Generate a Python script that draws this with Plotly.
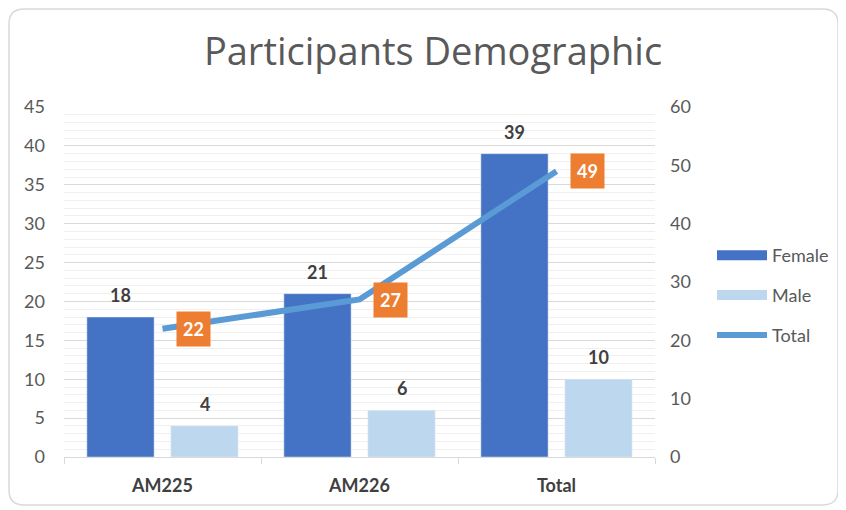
import plotly.graph_objects as go

categories = ["AM225", "AM226", "Total"]
female = [18, 21, 39]
male = [4, 6, 10]
total = [22, 27, 49]

FONT = "Lato, Open Sans, sans-serif"
TFONT = "Open Sans, Lato, sans-serif"
GRAY = "#595959"
DARK = "#404040"
C_F, C_M, C_T, C_L = "#4472C4", "#BDD7EE", "#5B9BD5", "#ED7D31"

fig = go.Figure()
fig.add_trace(go.Bar(
    x=categories, y=female, name="Female", marker_color=C_F,
    showlegend=False,
))
fig.add_trace(go.Bar(
    x=categories, y=male, name="Male", marker_color=C_M,
    showlegend=False,
))
fig.add_trace(go.Scatter(
    x=categories, y=total, name="Total", yaxis="y2", mode="lines",
    line=dict(color=C_T, width=6), showlegend=False,
))
# legend entries
fig.add_trace(go.Scatter(x=[None], y=[None], name="Female", mode="lines",
                         line=dict(color=C_F, width=11), legendgroup="f"))
fig.add_trace(go.Scatter(x=[None], y=[None], name="Male", mode="lines",
                         line=dict(color=C_M, width=11), legendgroup="m"))
fig.add_trace(go.Scatter(x=[None], y=[None], name="Total", mode="lines",
                         line=dict(color=C_T, width=6), legendgroup="t"))

# bar value labels (grouped bar offsets)
for series, shift in ((female, -42), (male, 42)):
    for c, v in zip(categories, series):
        fig.add_annotation(
            x=c, y=v, xref="x", yref="y", text=f"<b>{v}</b>", showarrow=False,
            xshift=shift, yshift=22, yanchor="middle",
            font=dict(family=FONT, size=18, color=DARK),
        )

for c, v in zip(categories, total):
    fig.add_annotation(
        x=c, y=v, xref="x", yref="y2", text=f"<b>{v}</b>", showarrow=False,
        xshift=31, bgcolor=C_L, borderpad=6,
        font=dict(family=FONT, size=18, color="white"),
    )

# mapping from screen pixels to paper coords
W, H = 591.0, 350.0
def px(x):
    return (x - 64) / W
def py(y):
    return (457 - y) / H
x0, x1, y0, y1 = px(9), px(838), py(505), py(9)
rx, ry = 15 / W, 15 / H
path = (f"M {x0+rx},{y1} L {x1-rx},{y1} Q {x1},{y1} {x1},{y1-ry} "
        f"L {x1},{y0+ry} Q {x1},{y0} {x1-rx},{y0} L {x0+rx},{y0} "
        f"Q {x0},{y0} {x0},{y0+ry} L {x0},{y1-ry} Q {x0},{y1} {x0+rx},{y1} Z")
fig.add_shape(type="path", path=path, xref="paper", yref="paper",
              line=dict(color="#d9d9d9", width=1.5), layer="below")

FW, FH = 838, 502
fig.update_layout(
    width=FW, height=FH,
    margin=dict(l=56, r=191, t=99, b=53),
    paper_bgcolor="white", plot_bgcolor="white",
    title=dict(text="Participants Demographic", x=(433 - 8) / FW, xanchor="center",
               y=1 - (52 - 8) / FH, yanchor="middle",
               font=dict(family=TFONT, size=38, color=GRAY)),
    barmode="group", bargap=0.147, bargroupgap=0.2,
    font=dict(family=FONT, size=18, color=GRAY),
    xaxis=dict(
        showline=True, linecolor="#d9d9d9", linewidth=1,
        tickson="boundaries", ticks="outside", ticklen=6, tickcolor="#d9d9d9",
        showgrid=False, ticklabelstandoff=12,
        tickfont=dict(family=FONT, size=18, color=DARK, weight="bold"),
    ),
    yaxis=dict(
        range=[0, 45], dtick=5, showgrid=True, gridcolor="#d9d9d9",
        zeroline=False, showline=False,
        minor=dict(dtick=1, showgrid=True, gridcolor="#f0f0f0"),
        tickfont=dict(family=FONT, size=18, color=GRAY), ticks="",
        ticklabelstandoff=18,
    ),
    yaxis2=dict(
        range=[0, 60], dtick=10, overlaying="y", side="right",
        showgrid=False, zeroline=False, showline=False,
        tickfont=dict(family=FONT, size=18, color=GRAY),
        ticklabelstandoff=14,
    ),
    legend=dict(x=px(712), y=py(237), xanchor="left", yanchor="top",
                font=dict(family=FONT, size=18, color=GRAY),
                tracegroupgap=13.5, itemwidth=50, bgcolor="rgba(0,0,0,0)"),
    showlegend=True,
)

fig.write_html("out.html")
